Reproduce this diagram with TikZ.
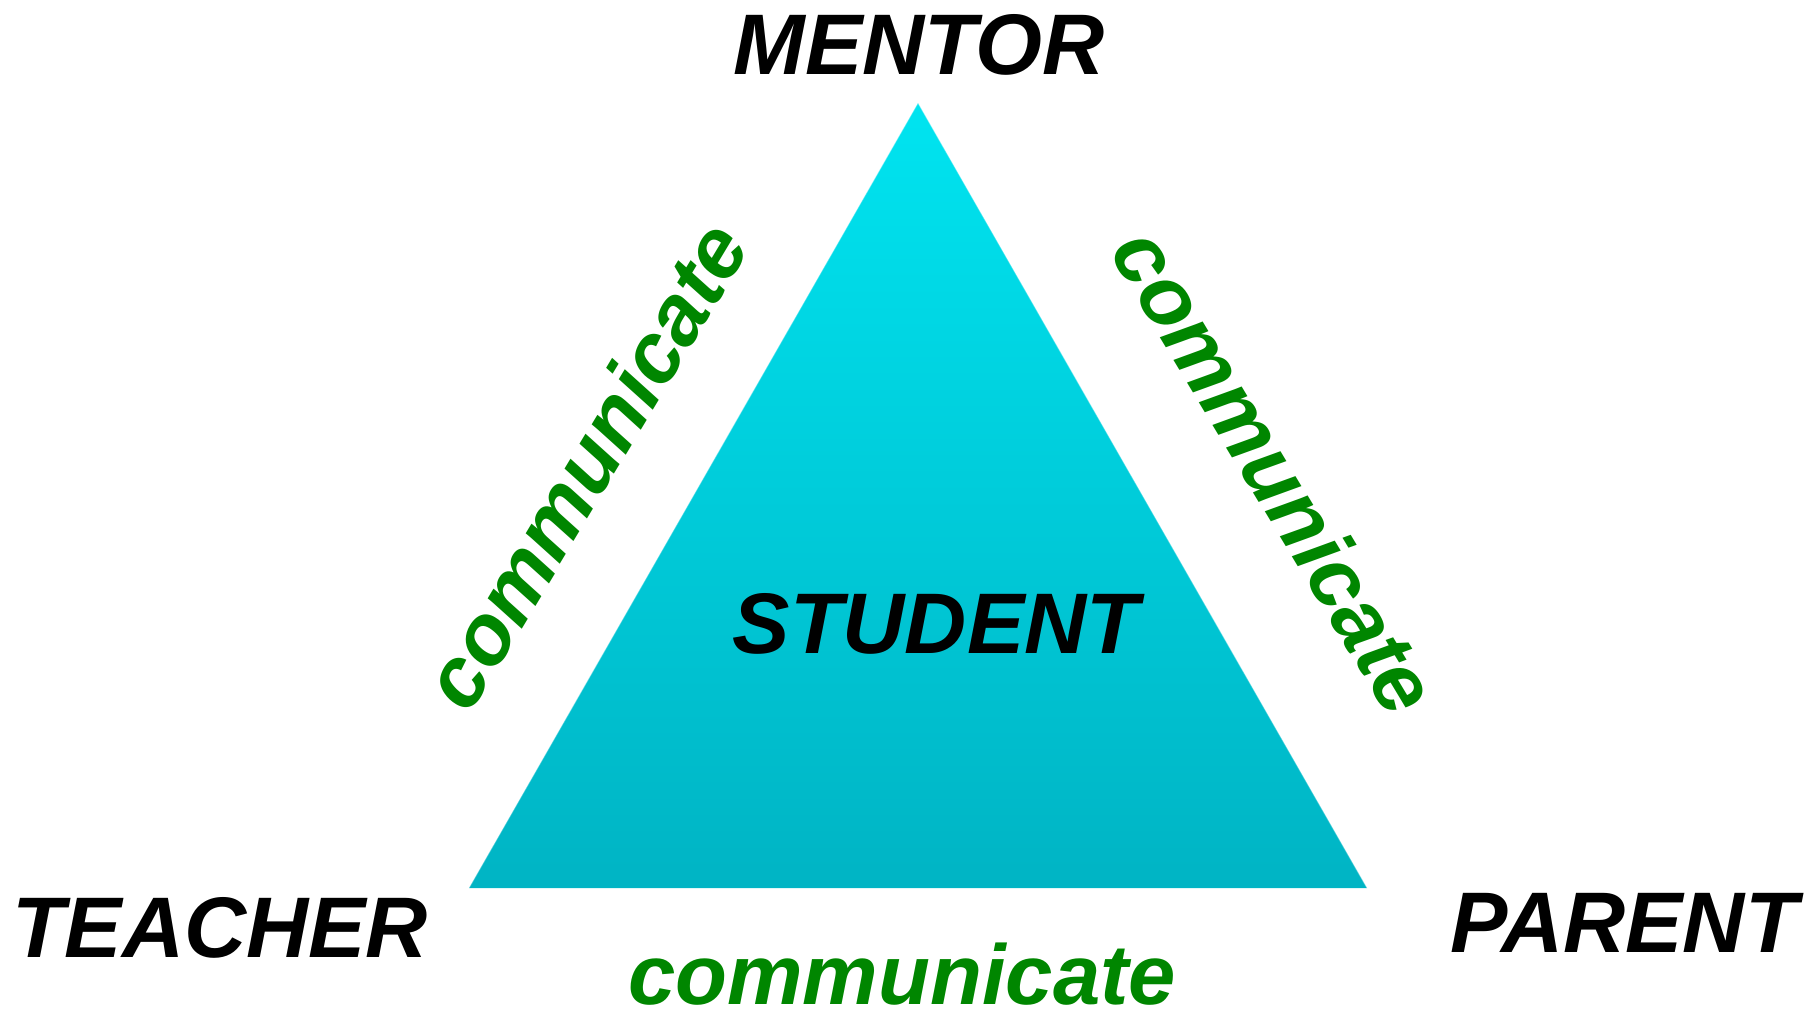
\documentclass[tikz,border=0pt]{standalone}
\usepackage{fontspec}
\setmainfont{Liberation Sans}
\definecolor{trtop}{RGB}{0,228,240}
\definecolor{trbot}{RGB}{0,180,196}
\definecolor{comgreen}{RGB}{0,134,0}
\begin{document}
\begin{tikzpicture}[x=1pt,y=-1pt,
  role/.style={font=\fontsize{86}{90}\selectfont\bfseries\itshape, text=black, inner sep=0pt},
  comm/.style={font=\fontsize{85}{90}\selectfont\bfseries\itshape, text=comgreen, inner sep=0pt}]
\useasboundingbox (0,0) rectangle (1804,1009);
\coordinate (apex) at (918,103);
\coordinate (bl) at (469,888);
\coordinate (br) at (1367,888);
% soft shadow under base
\foreach \d/\o in {1/0.25,3/0.15,5/0.08,7/0.04}{
  \draw[black, opacity=\o, line width=2pt] ([xshift=8pt,yshift=\d pt]bl) -- ([xshift=-8pt,yshift=\d pt]br);
}
\shade[top color=trtop, bottom color=trbot] (apex) -- (br) -- (bl) -- cycle;
\draw[white, opacity=0.35, line width=1pt] (bl) -- (apex) -- (br);
\node[role] (mentor) at (919,45) {MENTOR};
\node[role] (student) at (936,624) {STUDENT};
\node[role] (teacher) at (220,928) {TEACHER};
\node[role] (parent) at (1624,923) {PARENT};
\node[comm, rotate=59] (cleft) at (585,465) {communicate};
\node[comm, rotate=-59] (cright) at (1276,471) {communicate};
\node[comm, anchor=base] (cbottom) at (902,1004) {communicate};
\end{tikzpicture}
\end{document}
